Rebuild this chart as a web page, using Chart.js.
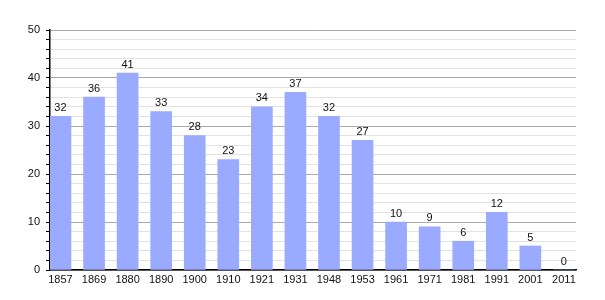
<!DOCTYPE html>
<html>
<head>
<meta charset="utf-8">
<script src="https://cdn.jsdelivr.net/npm/chart.js@4/dist/chart.umd.min.js"></script>
<style>
  html, body { margin: 0; padding: 0; background: #fff; }
  #wrap { width: 605px; height: 300px; }
</style>
</head>
<body>
<div id="wrap"><canvas id="popChart"></canvas></div>
<script>
// Census years and population values
const years = ['1857', '1869', '1880', '1890', '1900', '1910', '1921', '1931', '1948', '1953', '1961', '1971', '1981', '1991', '2001', '2011'];
const population = [32, 36, 41, 33, 28, 23, 34, 37, 32, 27, 10, 9, 6, 12, 5, 0];
const yMax = 50;

const FONT = 'Liberation Sans, Arial, sans-serif';

// Draw the value above each bar
const valueLabels = {
  id: 'valueLabels',
  afterDatasetsDraw(chart) {
    const ctx = chart.ctx;
    const meta = chart.getDatasetMeta(0);
    ctx.save();
    ctx.font = '11px ' + FONT;
    ctx.fillStyle = '#111';
    ctx.textAlign = 'center';
    ctx.textBaseline = 'bottom';
    meta.data.forEach((bar, i) => {
      ctx.fillText(String(population[i]), bar.x, bar.y - 3);
    });
    ctx.restore();
  }
};

new Chart(document.getElementById('popChart').getContext('2d'), {
  type: 'bar',
  data: {
    datasets: [{
      data: population.map((v, i) => ({ x: i, y: v })),
      backgroundColor: '#99aaff',
      borderWidth: 0,
      barThickness: 21
    }]
  },
  options: {
    responsive: true,
    maintainAspectRatio: false,
    animation: false,
    layout: { padding: { top: 30, right: 29, left: 0, bottom: 0 } },
    plugins: {
      legend: { display: false },
      tooltip: { enabled: false }
    },
    scales: {
      x: {
        type: 'linear',
        offset: false,
        min: -0.3125,
        max: 15.36,
        afterFit: s => { s.height = 30; },
        afterBuildTicks: s => { s.ticks = years.map((y, i) => ({ value: i })); },
        grid: { display: false, drawTicks: false },
        border: { display: true, color: '#000', width: 1.5 },
        ticks: {
          padding: 3,
          color: '#111',
          font: { family: FONT, size: 11 },
          maxRotation: 0,
          autoSkip: false,
          callback: v => years[v]
        }
      },
      y: {
        min: 0,
        max: yMax,
        afterFit: s => { s.width = 50; },
        border: { display: true, color: '#000', width: 1.5 },
        grid: {
          color: c => (c.tick.value % 10 === 0 ? '#aaaaaa' : '#e2e2e2'),
          tickColor: '#000',
          tickLength: 4,
          lineWidth: 1
        },
        ticks: {
          stepSize: 2,
          padding: 6,
          color: '#111',
          font: { family: FONT, size: 11 },
          autoSkip: false,
          callback: v => (v % 10 === 0 ? v : '')
        }
      }
    }
  },
  plugins: [valueLabels]
});
</script>
</body>
</html>
